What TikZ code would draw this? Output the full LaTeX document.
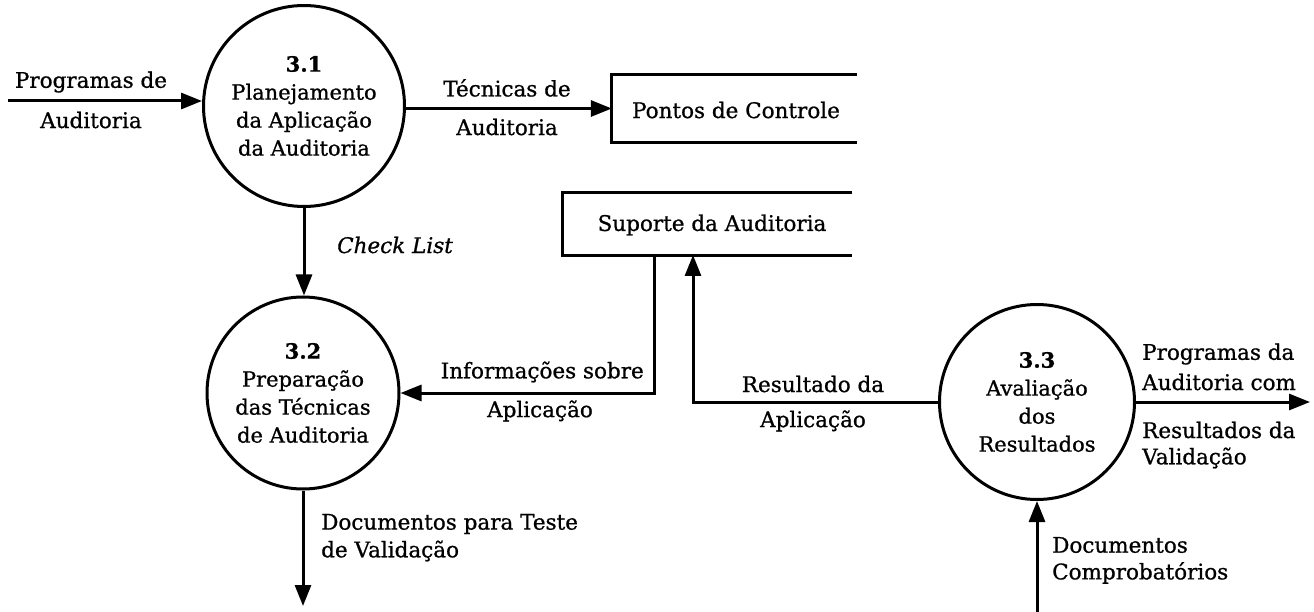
\documentclass[tikz,border=0pt]{standalone}
\usepackage{fontspec}
\setmainfont{DejaVu Serif}[FakeBold=0.9]
\usetikzlibrary{arrows.meta}
\begin{document}
\begin{tikzpicture}[x=1pt,y=-1pt,
  proc/.style={circle,draw,line width=3pt,inner sep=0pt,align=center,font=\fontsize{21}{28}\selectfont},
  store/.style={inner sep=0pt,minimum height=#1},
  lbl/.style={inner sep=0pt,font=\fontsize{21.5}{28}\selectfont},
  flow/.style={line width=3pt,-{Triangle[length=21pt,width=16pt]}},
  edge/.style={line width=3pt}]
\useasboundingbox (0,0) rectangle (1314,612);
% processes
\node[proc,minimum size=201pt] (c31) at (304,106) {\textbf{3.1}\\Planejamento\\da Aplicação\\da Auditoria};
\node[proc,minimum size=192pt] (c32) at (303,393) {\textbf{3.2}\\Preparação\\das Técnicas\\de Auditoria};
\node[proc,minimum size=195pt] (c33) at (1037,402) {\textbf{3.3}\\Avaliação\\dos\\Resultados};
% stores
\node[store=67pt,minimum width=245pt] (pc) at (734.5,108.5) {};
\node[lbl] at (736,110) {Pontos de Controle};
\node[store=62pt,minimum width=289pt] (sup) at (707.5,224) {};
\node[lbl] at (712,225) {Suporte da Auditoria};
\draw[edge] (pc.north east) -- (pc.north west) -- (pc.south west) -- (pc.south east);
\draw[edge] (sup.north east) -- (sup.north west) -- (sup.south west) -- (sup.south east);
% free ends
\coordinate (i1) at (8,101);
\coordinate (s1) at (654,255);
\coordinate (s2) at (693,255);
\coordinate (d1) at (303,606);
\coordinate (o1) at (1310,403);
\coordinate (d2) at (1037,612);
% flows
\draw[flow] (i1) -- (i1 -| c31.west);
\draw[flow] (c31.east |- pc.west) -- (pc.west);
\draw[flow] (c31.south) -- (c31.south |- c32.north);
\draw[flow] (s1) |- (c32.east);
\draw[flow] (c33.west) -| (s2);
\draw[flow] (c32.south) -- (d1);
\draw[flow] (c33.east) -- (o1 |- c33.east);
\draw[flow] (d2) -- (c33.south);
% labels
\node[lbl] at (91,82) {Programas de};
\node[lbl] at (91,120) {Auditoria};
\node[lbl] at (507,88) {Técnicas de};
\node[lbl] at (507,127) {Auditoria};
\node[lbl,anchor=west] at (337,245) {\itshape Check List};
\node[lbl,anchor=east] at (644,372) {Informações sobre};
\node[lbl] at (540,411) {Aplicação};
\node[lbl] at (813,384) {Resultado da};
\node[lbl] at (813,421) {Aplicação};
\node[lbl,anchor=west] at (1142,354) {Programas da};
\node[lbl,anchor=west] at (1142,382) {Auditoria com};
\node[lbl,anchor=west] at (1142,430) {Resultados da};
\node[lbl,anchor=west] at (1142,458) {Validação};
\node[lbl,anchor=west] at (321,524) {Documentos para Teste};
\node[lbl,anchor=west] at (321,551) {de Validação};
\node[lbl,anchor=west] at (1052,545) {Documentos};
\node[lbl,anchor=west] at (1052,573) {Comprobatórios};
\end{tikzpicture}
\end{document}
